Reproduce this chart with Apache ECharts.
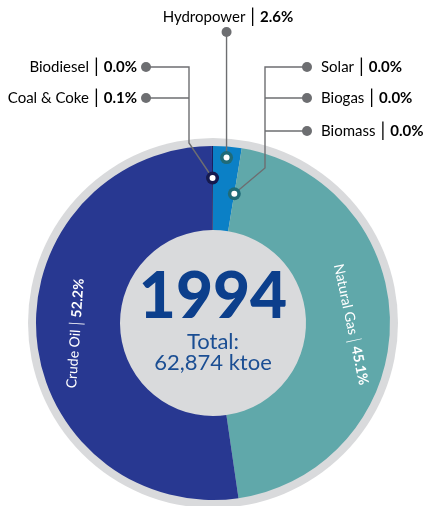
<!DOCTYPE html>
<html>
<head>
<meta charset="utf-8">
<script src="https://cdn.jsdelivr.net/npm/echarts@6/dist/echarts.min.js"></script>
<style>
html, body { margin: 0; padding: 0; background: #fff; }
#chart { width: 424px; height: 506px; }
</style>
</head>
<body>
<div id="chart"></div>
<script>
// data
var categories = ['Hydropower', 'Solar', 'Biogas', 'Biomass', 'Natural Gas', 'Crude Oil', 'Coal & Coke', 'Biodiesel'];
var shares = [2.6, 0.0, 0.0, 0.0, 45.1, 52.2, 0.1, 0.0];
var year = '1994';
var totalKtoe = '62,874';

var sliceColors = {
    'Hydropower': '#0b80c6',
    'Natural Gas': '#60a8aa',
    'Crude Oil': '#283891',
    'Coal & Coke': '#1a1f5e'
};
// text rotation of the labels drawn inside the ring
var insideRotate = { 'Natural Gas': -78, 'Crude Oil': 86 };

var cx = 213, cy = 323, rIn = 93, rOut = 177, rRing = 185;
var font = 'Lato, "Open Sans", sans-serif';
var grey = '#6d6e71';

var myChart = echarts.init(document.getElementById('chart'));

function fmt(v) { return v.toFixed(1) + '%'; }
function idx(name) { return categories.indexOf(name); }

// angle (deg, clockwise from top) where a slice starts, and its middle
function startAngle(name) {
    var s = 0, total = 0;
    for (var i = 0; i < shares.length; i++) total += shares[i];
    for (var j = 0; j < idx(name); j++) s += shares[j];
    return s / total * 360;
}
function midAngle(name) {
    var total = 0;
    for (var i = 0; i < shares.length; i++) total += shares[i];
    return startAngle(name) + shares[idx(name)] / total * 180;
}
function pt(a, r) {
    var rad = a * Math.PI / 180;
    return [cx + r * Math.sin(rad), cy - r * Math.cos(rad)];
}

var pieData = categories.map(function(c, i) {
    var showLabel = insideRotate[c] !== undefined;
    return {
        name: c,
        value: shares[i],
        itemStyle: { color: sliceColors[c] || '#0b80c6' },
        label: showLabel ? { show: true, rotate: insideRotate[c] } : { show: false }
    };
});

var labelRich = {
    s: { color: '#ffffff', fontSize: 17, fontFamily: font, fontWeight: 300, padding: [0, 4, 0, 4] },
    b: { color: '#ffffff', fontSize: 14, fontFamily: font, fontWeight: 'bold' }
};
var calloutRich = {
    n: { color: '#3a3a3c', fontSize: 15, fontFamily: font },
    s: { color: '#3a3a3c', fontSize: 19, fontFamily: font, fontWeight: 'normal', padding: [0, 5, 0, 5] },
    b: { color: '#3a3a3c', fontSize: 15, fontFamily: font, fontWeight: 'bold' }
};
function callout(name) {
    return '{n|' + name + '}{s||}{b|' + fmt(shares[idx(name)]) + '}';
}

// marker positions derived from the pie geometry
var hydroPt = pt(midAngle('Hydropower'), 166);
var coalPt = pt(midAngle('Coal & Coke'), 145);
var zeroPt = pt(startAngle('Solar'), 131);

function marker(p, ring) {
    return [
        { type: 'circle', z: 20, shape: { cx: p[0], cy: p[1], r: 6.5 }, style: { fill: ring } },
        { type: 'circle', z: 21, shape: { cx: p[0], cy: p[1], r: 3 }, style: { fill: '#ffffff' } }
    ];
}
function dot(x, y) {
    return { type: 'circle', z: 20, shape: { cx: x, cy: y, r: 5 }, style: { fill: grey } };
}
function line(points) {
    return { type: 'polyline', z: 19, shape: { points: points }, style: { stroke: grey, lineWidth: 1.4, fill: null } };
}
function text(x, y, str, align) {
    return { type: 'text', z: 20, x: x, y: y, style: { text: str, rich: calloutRich, align: align, verticalAlign: 'middle' } };
}

var graphics = [
    // centre text
    { type: 'text', z: 30, x: cx, y: 297, style: { text: year, fill: '#0c3f8c', font: '900 64px ' + font, align: 'center', verticalAlign: 'middle' } },
    { type: 'text', z: 30, x: cx, y: 342, style: { text: 'Total:', fill: '#1b4e93', font: '22px ' + font, align: 'center', verticalAlign: 'middle' } },
    { type: 'text', z: 30, x: cx, y: 363, style: { text: totalKtoe + ' ktoe', fill: '#1b4e93', font: '22px ' + font, align: 'center', verticalAlign: 'middle' } },

    // hydropower callout
    text(228, 17, callout('Hydropower'), 'center'),
    line([[hydroPt[0], 32], hydroPt]),
    dot(hydroPt[0], 32),

    // coal & biodiesel callout
    text(137, 67, callout('Biodiesel'), 'right'),
    text(137, 98, callout('Coal & Coke'), 'right'),
    line([[146, 67], [189, 67], [189, 143], coalPt]),
    line([[146, 98], [189, 98]]),
    dot(146, 67),
    dot(146, 98),

    // solar / biogas / biomass callout
    text(321, 67, callout('Solar'), 'left'),
    text(321, 98, callout('Biogas'), 'left'),
    text(321, 131, callout('Biomass'), 'left'),
    line([[307, 67], [265, 67], [265, 168], zeroPt]),
    line([[307, 98], [265, 98]]),
    line([[307, 131], [265, 131]]),
    dot(307, 67),
    dot(307, 98),
    dot(307, 131)
].concat(marker(hydroPt, '#1f6b78'), marker(coalPt, '#151a4f'), marker(zeroPt, '#1f6b78'));

var option = {
    animation: false,
    backgroundColor: '#ffffff',
    series: [{
        type: 'pie',
        silent: true,
        center: [cx, cy],
        radius: [0, rRing],
        label: { show: false },
        labelLine: { show: false },
        itemStyle: { color: '#d9dadc' },
        data: [1],
        z: 1
    }, {
        type: 'pie',
        silent: true,
        center: [cx, cy],
        radius: [rIn, rOut],
        startAngle: 90,
        clockwise: true,
        minAngle: 0,
        avoidLabelOverlap: false,
        label: {
            position: 'inside',
            color: '#ffffff',
            fontSize: 14,
            fontFamily: font,
            formatter: function(p) {
                return p.name + '{s||}{b|' + fmt(p.value) + '}';
            },
            rich: labelRich
        },
        labelLine: { show: false },
        data: pieData,
        z: 2
    }],
    graphic: graphics
};
myChart.setOption(option);
</script>
</body>
</html>
